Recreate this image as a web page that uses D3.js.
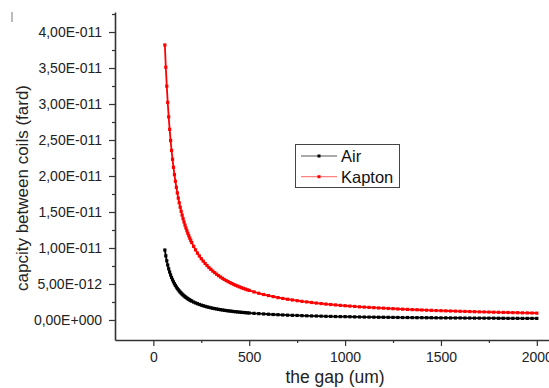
<!DOCTYPE html>
<html>
<head>
<meta charset="utf-8">
<script src="https://cdn.jsdelivr.net/npm/d3@7"></script>
<style>
  body { margin: 0; background: #fff; }
  svg { display: block; font-family: "Liberation Sans", Arial, sans-serif; }
</style>
</head>
<body>
<svg id="chart" width="549" height="388"></svg>
<script>
// gap in um
var gap = [60, 65, 70, 75, 80, 85, 90, 95, 100, 105, 110, 115, 120, 125, 130, 135, 140, 145, 150, 155,
  160, 165, 170, 175, 180, 185, 190, 195, 200,
  210, 220, 230, 240, 250, 260, 270, 280, 290, 300, 310, 320, 330, 340, 350, 360, 370, 380, 390, 400,
  410, 420, 430, 440, 450, 460, 470, 480, 490, 500,
  525, 550, 575, 600, 625, 650, 675, 700, 725, 750, 775, 800, 825, 850, 875, 900, 925, 950, 975, 1000,
  1025, 1050, 1075, 1100, 1125, 1150, 1175, 1200, 1225, 1250, 1275, 1300, 1325, 1350, 1375, 1400,
  1425, 1450, 1475, 1500, 1525, 1550, 1575, 1600, 1625, 1650, 1675, 1700, 1725, 1750, 1775, 1800,
  1825, 1850, 1875, 1900, 1925, 1950, 1975, 2000];

// capacity, in units of 1E-12 F
var capAir = [9.72, 8.91, 8.22, 7.63, 7.11, 6.66, 6.26, 5.90, 5.58, 5.29, 5.03, 4.80, 4.58, 4.38, 4.20, 4.03, 3.87, 3.73, 3.59, 3.47,
  3.35, 3.24, 3.14, 3.04, 2.95, 2.86, 2.78, 2.70, 2.63,
  2.49, 2.37, 2.26, 2.16, 2.06, 1.98, 1.90, 1.82, 1.76, 1.69, 1.63, 1.58, 1.53, 1.48, 1.43, 1.39, 1.35, 1.31, 1.27, 1.24,
  1.21, 1.17, 1.14, 1.12, 1.09, 1.06, 1.04, 1.02, 0.99, 0.97,
  0.92, 0.88, 0.84, 0.80, 0.76, 0.73, 0.70, 0.67, 0.65, 0.63, 0.60, 0.58, 0.56, 0.55, 0.53, 0.51, 0.50, 0.48, 0.47, 0.46,
  0.45, 0.43, 0.42, 0.41, 0.40, 0.39, 0.38, 0.38, 0.37, 0.36, 0.35, 0.34, 0.34, 0.33, 0.32, 0.32,
  0.31, 0.31, 0.30, 0.29, 0.29, 0.28, 0.28, 0.28, 0.27, 0.27, 0.26, 0.26, 0.25, 0.25, 0.25, 0.24,
  0.24, 0.23, 0.23, 0.23, 0.22, 0.22, 0.22, 0.22];

var capKapton = [38.20, 35.11, 32.48, 30.21, 28.22, 26.48, 24.93, 23.55, 22.32, 21.20, 20.19, 19.27, 18.42, 17.65, 16.93, 16.28, 15.67, 15.10, 14.57, 14.07,
  13.61, 13.18, 12.77, 12.39, 12.03, 11.69, 11.36, 11.06, 10.76,
  10.23, 9.74, 9.29, 8.89, 8.51, 8.17, 7.85, 7.56, 7.28, 7.03, 6.79, 6.57, 6.36, 6.16, 5.97, 5.80, 5.63, 5.48, 5.33, 5.19,
  5.06, 4.93, 4.81, 4.70, 4.59, 4.48, 4.38, 4.29, 4.19, 4.11,
  3.90, 3.71, 3.54, 3.39, 3.25, 3.11, 2.99, 2.88, 2.78, 2.68, 2.59, 2.51, 2.43, 2.35, 2.28, 2.21, 2.15, 2.09, 2.03, 1.98,
  1.93, 1.88, 1.83, 1.79, 1.75, 1.71, 1.67, 1.64, 1.60, 1.57, 1.53, 1.50, 1.47, 1.44, 1.42, 1.39,
  1.36, 1.34, 1.31, 1.29, 1.27, 1.25, 1.23, 1.21, 1.19, 1.17, 1.15, 1.13, 1.12, 1.10, 1.08, 1.07,
  1.05, 1.04, 1.02, 1.01, 0.99, 0.98, 0.97, 0.95];

var xTicks = [0, 500, 1000, 1500, 2000];
var xMinor = [250, 750, 1250, 1750];
var yTicks = [0, 5, 10, 15, 20, 25, 30, 35, 40];
var yMinor = [2.5, 7.5, 12.5, 17.5, 22.5, 27.5, 32.5, 37.5, 42.5];

var series = [
  {name: "Air", values: capAir, color: "#000000", legendLine: "#555555"},
  {name: "Kapton", values: capKapton, color: "#ff0000", legendLine: "#ff8080"}
];

var svg = d3.select("#chart");

var x = d3.scaleLinear().domain([-200, 2100]).range([115, 556]);
var y = d3.scaleLinear().domain([-2.78, 42.78]).range([340, 12]);

// 5 -> "5,00E-012"
function sciComma(v) {
  var f = v * 1e-12;
  if (Math.abs(v) < 1e-9) return "0,00E+000";
  var e = Math.floor(Math.log10(Math.abs(f)) + 1e-9);
  var m = f / Math.pow(10, e);
  var es = (e < 0 ? "-" : "+") + String(Math.abs(e)).padStart(3, "0");
  return m.toFixed(2).replace(".", ",") + "E" + es;
}

// little grey mark at top left
svg.append("rect").attr("x", 11).attr("y", 12).attr("width", 2).attr("height", 10).attr("fill", "#bbbbbb");

// minor ticks
svg.append("g").attr("transform", "translate(0,340)")
  .call(d3.axisBottom(x).tickValues(xMinor).tickSize(3).tickSizeOuter(0).tickFormat(""))
  .call(function(g) { g.select(".domain").remove(); });
svg.append("g").attr("transform", "translate(115,0)")
  .call(d3.axisLeft(y).tickValues(yMinor).tickSize(3).tickSizeOuter(0).tickFormat(""))
  .call(function(g) { g.select(".domain").remove(); });

// major axes
var xAxis = svg.append("g").attr("transform", "translate(0,340)")
  .call(d3.axisBottom(x).tickValues(xTicks).tickSize(6).tickSizeOuter(0).tickPadding(6).tickFormat(d3.format("d")));
var yAxis = svg.append("g").attr("transform", "translate(115,0)")
  .call(d3.axisLeft(y).tickValues(yTicks).tickSize(6).tickSizeOuter(0).tickPadding(7).tickFormat(sciComma));

svg.selectAll(".domain").attr("stroke", "#333").attr("stroke-width", 1.6);
svg.selectAll(".tick line").attr("stroke", "#333").attr("stroke-width", 1.2);
svg.selectAll(".tick text").attr("fill", "#222").style("font-size", "14px");
yAxis.selectAll(".tick text").attr("dy", "0.35em");

// axis titles
svg.append("text").attr("x", 335).attr("y", 383).attr("text-anchor", "middle")
  .style("font-size", "17.5px").attr("fill", "#222").text("the gap (um)");
svg.append("text").attr("transform", "translate(28,188) rotate(-90)").attr("text-anchor", "middle")
  .style("font-size", "17px").attr("fill", "#222").text("capcity between coils (fard)");

// curves
var line = d3.line().x(function(d) { return x(d[0]); }).y(function(d) { return y(d[1]); });

series.forEach(function(s) {
  var pts = gap.map(function(g, i) { return [g, s.values[i]]; });
  svg.append("path").datum(pts).attr("d", line)
    .attr("fill", "none").attr("stroke", s.color).attr("stroke-width", 1.8);
  svg.append("g").selectAll("rect").data(pts).enter().append("rect")
    .attr("x", function(d) { return x(d[0]) - 1.6; })
    .attr("y", function(d) { return y(d[1]) - 1.6; })
    .attr("width", 3.2).attr("height", 3.2)
    .attr("fill", s.color);
});

// legend
var legend = svg.append("g");
legend.append("rect").attr("x", 295.5).attr("y", 144.5).attr("width", 104).attr("height", 43)
  .attr("fill", "#fff").attr("stroke", "#444").attr("stroke-width", 1);
series.forEach(function(s, i) {
  var ly = 156 + i * 20.7;
  legend.append("line").attr("x1", 301).attr("x2", 337).attr("y1", ly).attr("y2", ly)
    .attr("stroke", s.legendLine).attr("stroke-width", 1.2);
  legend.append("rect").attr("x", 317.5).attr("y", ly - 1.5).attr("width", 3).attr("height", 3).attr("fill", s.color);
  legend.append("text").attr("x", 341).attr("y", ly + 6.3).style("font-size", "16.5px").attr("fill", "#111").text(s.name);
});
</script>
</body>
</html>
